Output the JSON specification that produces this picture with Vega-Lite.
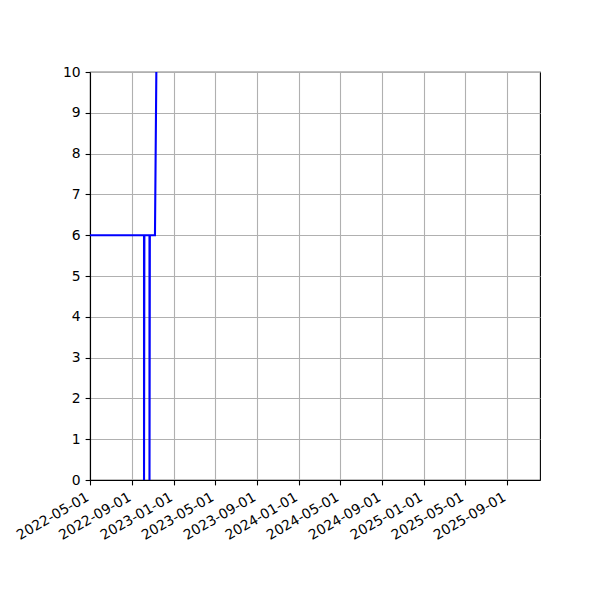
{
  "$schema": "https://vega.github.io/schema/vega-lite/v6.json",
  "width": 450,
  "height": 408,
  "autosize": {"type": "none"},
  "padding": {"left": 90, "top": 72, "right": 60, "bottom": 120},
  "background": "white",
  "data": {
    "values": [
      {"i": 0, "date": "2022-05-01", "value": 6},
      {"i": 1, "date": "2022-10-06", "value": 6},
      {"i": 2, "date": "2022-10-06", "value": 0},
      {"i": 3, "date": "2022-10-07", "value": 6},
      {"i": 4, "date": "2022-10-22", "value": 6},
      {"i": 5, "date": "2022-10-22", "value": 0},
      {"i": 6, "date": "2022-10-23", "value": 6},
      {"i": 7, "date": "2022-11-07", "value": 6},
      {"i": 8, "date": "2022-11-13", "value": 12}
    ]
  },
  "mark": {"type": "line", "color": "#0000ff", "strokeWidth": 2.1, "clip": true},
  "encoding": {
    "x": {
      "field": "date",
      "type": "temporal",
      "scale": {
        "type": "utc",
        "domain": [
          {"year": 2022, "month": 5, "date": 1, "utc": true},
          {"year": 2025, "month": 12, "date": 7, "utc": true}
        ],
        "nice": false
      },
      "axis": {
        "title": null,
        "format": "%Y-%m-%d",
        "values": [
          {"year": 2022, "month": 5, "date": 1, "utc": true},
          {"year": 2022, "month": 9, "date": 1, "utc": true},
          {"year": 2023, "month": 1, "date": 1, "utc": true},
          {"year": 2023, "month": 5, "date": 1, "utc": true},
          {"year": 2023, "month": 9, "date": 1, "utc": true},
          {"year": 2024, "month": 1, "date": 1, "utc": true},
          {"year": 2024, "month": 5, "date": 1, "utc": true},
          {"year": 2024, "month": 9, "date": 1, "utc": true},
          {"year": 2025, "month": 1, "date": 1, "utc": true},
          {"year": 2025, "month": 5, "date": 1, "utc": true},
          {"year": 2025, "month": 9, "date": 1, "utc": true}
        ],
        "labelAngle": -30,
        "labelAlign": "right",
        "labelBaseline": "top",
        "labelOffset": -6,
        "labelFlush": false,
        "labelOverlap": false
      }
    },
    "y": {
      "field": "value",
      "type": "quantitative",
      "scale": {"domain": [0, 10], "nice": false, "zero": false},
      "axis": {
        "title": null,
        "values": [0, 1, 2, 3, 4, 5, 6, 7, 8, 9, 10],
        "format": "d",
        "labelFlush": false,
        "labelOverlap": false
      }
    },
    "order": {"field": "i", "type": "quantitative"}
  },
  "config": {
    "view": {"stroke": "black", "strokeWidth": 1.1},
    "axis": {
      "domainColor": "black",
      "domainWidth": 1.1,
      "tickColor": "black",
      "tickWidth": 1.1,
      "tickSize": 4.9,
      "labelPadding": 4.9,
      "labelColor": "black",
      "labelFont": "DejaVu Sans",
      "labelFontSize": 13.9,
      "grid": true,
      "gridColor": "#b0b0b0",
      "gridWidth": 1.1
    }
  }
}
